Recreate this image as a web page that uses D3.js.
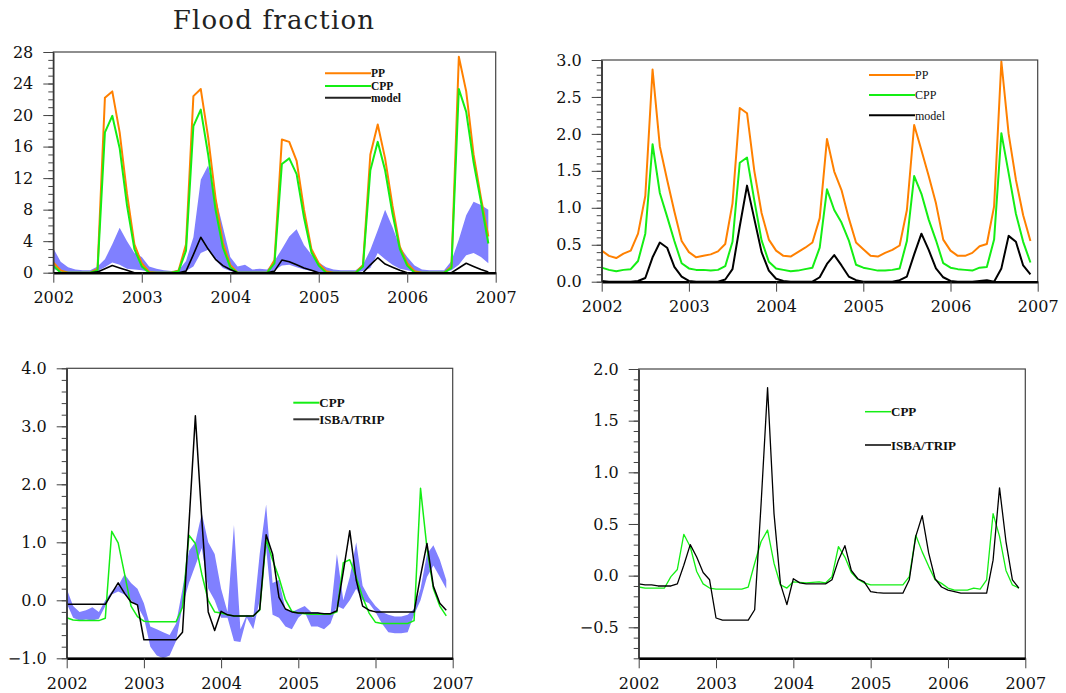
<!DOCTYPE html>
<html>
<head>
<meta charset="utf-8">
<script src="https://cdn.jsdelivr.net/npm/d3@7"></script>
<style>
  body { margin: 0; background: #fff; }
  svg { display: block; }
  .tick text { font-family: "DejaVu Serif", serif; font-size: 16px; fill: #111; }
  .tick line { stroke: #444; }
</style>
</head>
<body>
<svg width="1066" height="693"></svg>
<script>
// monthly time axis, Jan 2002 .. Dec 2006
const months = d3.range(60).map(i => 2002 + i / 12);
const years = [2002, 2003, 2004, 2005, 2006, 2007];

// top left: flood fraction
const ppFrac = [
  1.3, 0.3, 0, 0, 0, 0, 0.5, 22.2, 23.0, 17.8, 10.0, 3.6,
  1.2, 0.1, 0, 0, 0, 0.3, 3.6, 22.4, 23.3, 17.2, 9.5, 3.8,
  1.0, 0, 0, 0, 0, 0, 1.6, 16.9, 16.6, 14.2, 8.0, 3.0,
  1.2, 0.2, 0, 0, 0, 0, 1.0, 15.0, 18.8, 14.5, 8.5, 3.3,
  1.2, 0.2, 0, 0, 0, 0, 0.8, 27.4, 23.0, 15.0, 9.5, 4.6
];
const cppFrac = [
  0.9, 0, 0, 0, 0, 0, 0.3, 17.8, 19.9, 15.8, 8.5, 3.0,
  0.8, 0, 0, 0, 0, 0.2, 2.8, 18.6, 20.7, 15.0, 8.0, 3.2,
  0.7, 0, 0, 0, 0, 0, 1.2, 13.8, 14.5, 12.5, 7.0, 2.6,
  0.9, 0, 0, 0, 0, 0, 0.8, 13.0, 16.6, 13.0, 7.5, 3.0,
  0.9, 0, 0, 0, 0, 0, 0.6, 23.3, 20.4, 14.0, 9.0, 3.7
];
const modelFrac = [
  0, 0, 0, 0, 0, 0, 0.1, 0.5, 0.9, 0.6, 0.3, 0,
  0, 0, 0, 0, 0, 0, 0.2, 2.3, 4.5, 3.0, 1.7, 0.9,
  0.4, 0, 0, 0, 0, 0, 0.2, 1.6, 1.4, 1.0, 0.6, 0.3,
  0, 0, 0, 0, 0, 0, 0, 1.0, 1.9, 1.1, 0.7, 0.3,
  0, 0, 0, 0, 0, 0, 0, 0.6, 1.2, 0.8, 0.4, 0.1
];
const bandHiFrac = [
  3.1, 1.4, 0.7, 0.4, 0.3, 0.3, 0.8, 1.7, 3.6, 5.7, 4.0, 2.5,
  2.0, 0.8, 0.5, 0.3, 0.2, 0.3, 1.5, 4.5, 11.8, 13.6, 9.6, 5.8,
  2.0, 0.8, 1.0, 0.4, 0.5, 0.4, 1.5, 3.0, 4.6, 5.5, 3.5, 2.3,
  1.3, 0.7, 0.4, 0.3, 0.3, 0.3, 1.0, 2.9, 5.4, 8.0, 5.8, 3.3,
  2.0, 0.9, 0.4, 0.3, 0.3, 0.3, 1.5, 4.2, 7.3, 9.0, 8.6, 8.0
];
const bandLoFrac = [
  0.5, 0.1, 0, 0, 0, 0, 0.2, 0.7, 1.3, 1.0, 0.5, 0.4,
  0.3, 0.1, 0, 0, 0, 0, 0.2, 0.8, 2.5, 2.9, 1.6, 0.6,
  0.2, 0, 0, 0, 0, 0, 0.3, 0.9, 1.0, 0.7, 0.4, 0.2,
  0.1, 0, 0, 0, 0, 0, 0.2, 0.6, 2.5, 1.7, 1.0, 0.5,
  0.3, 0.1, 0, 0, 0, 0, 0.3, 1.0, 2.2, 2.5, 2.0, 1.2
];

// top right
const ppBasin = [
  0.42, 0.35, 0.32, 0.38, 0.42, 0.65, 1.16, 2.87, 1.83, 1.38, 0.95, 0.55,
  0.40, 0.33, 0.35, 0.37, 0.41, 0.51, 1.06, 2.35, 2.28, 1.50, 0.93, 0.57,
  0.42, 0.35, 0.34, 0.40, 0.46, 0.53, 0.86, 1.93, 1.49, 1.24, 0.86, 0.53,
  0.44, 0.35, 0.34, 0.39, 0.43, 0.49, 0.97, 2.12, 1.78, 1.43, 1.06, 0.57,
  0.42, 0.35, 0.35, 0.39, 0.48, 0.51, 1.02, 2.98, 2.00, 1.38, 0.90, 0.55
];
const cppBasin = [
  0.19, 0.16, 0.14, 0.16, 0.17, 0.28, 0.65, 1.86, 1.20, 0.88, 0.55, 0.25,
  0.18, 0.16, 0.16, 0.15, 0.16, 0.21, 0.54, 1.61, 1.68, 1.10, 0.56, 0.27,
  0.18, 0.16, 0.14, 0.15, 0.17, 0.19, 0.46, 1.25, 0.97, 0.80, 0.56, 0.23,
  0.19, 0.17, 0.15, 0.15, 0.16, 0.18, 0.55, 1.43, 1.19, 0.84, 0.56, 0.25,
  0.19, 0.17, 0.16, 0.15, 0.19, 0.20, 0.57, 2.01, 1.47, 0.92, 0.54, 0.26
];
const modelBasin = [
  0.01, 0, 0, 0, 0, 0.01, 0.05, 0.33, 0.53, 0.46, 0.20, 0.07,
  0.01, 0, 0, 0, 0, 0.03, 0.17, 0.75, 1.30, 0.85, 0.40, 0.15,
  0.04, 0.01, 0, 0, 0, 0, 0.06, 0.24, 0.36, 0.22, 0.07, 0.02,
  0, 0, 0, 0, 0, 0.02, 0.07, 0.37, 0.65, 0.43, 0.18, 0.06,
  0.01, 0, 0, 0, 0.01, 0.02, 0, 0.18, 0.62, 0.54, 0.22, 0.10
];

// bottom left: anomalies
const cppAnomA = [
  -0.30, -0.34, -0.35, -0.35, -0.35, -0.35, -0.31, 1.19, 0.99, 0.45, -0.10, -0.28,
  -0.36, -0.37, -0.37, -0.37, -0.37, -0.37, -0.12, 1.12, 0.98, 0.45, 0.0, -0.20,
  -0.22, -0.25, -0.27, -0.27, -0.27, -0.27, -0.17, 1.05, 0.70, 0.39, 0.01, -0.19,
  -0.22, -0.23, -0.24, -0.24, -0.24, -0.24, -0.20, 0.65, 0.70, 0.40, 0.05, -0.22,
  -0.38, -0.40, -0.40, -0.40, -0.40, -0.40, -0.35, 1.93, 0.90, 0.20, -0.10, -0.27
];
const isbaAnomA = [
  -0.07, -0.07, -0.07, -0.07, -0.07, -0.07, -0.07, 0.12, 0.30, 0.12, -0.03, -0.08,
  -0.68, -0.68, -0.68, -0.68, -0.68, -0.68, -0.55, 1.30, 3.18, 1.40, -0.20, -0.52,
  -0.19, -0.25, -0.27, -0.27, -0.27, -0.27, -0.16, 1.13, 0.80, 0.05, -0.15, -0.20,
  -0.22, -0.22, -0.22, -0.22, -0.23, -0.23, -0.18, 0.50, 1.20, 0.35, -0.10, -0.17,
  -0.20, -0.20, -0.20, -0.20, -0.20, -0.20, -0.20, 0.42, 0.98, 0.24, -0.05, -0.17
];
const bandLoAnom = [
  -0.05, -0.30, -0.35, -0.33, -0.35, -0.32, -0.10, 0.10, 0.15, 0.10, 0.00, -0.10,
  -0.30, -0.80, -0.95, -1.00, -0.95, -0.70, -0.10, 0.30, 0.60, 0.90, 0.20, 0.00,
  -0.30, -0.30, -0.70, -0.72, -0.30, -0.50, 0.00, 0.90, -0.25, -0.30, -0.45, -0.50,
  -0.30, -0.20, -0.45, -0.45, -0.50, -0.40, -0.10, -0.15, 0.00, 0.20, 0.00, -0.05,
  -0.20, -0.40, -0.55, -0.57, -0.57, -0.55, -0.25, 0.00, 0.40, 0.60, 0.40, 0.20
];
const bandHiAnom = [
  0.20, -0.10, -0.20, -0.17, -0.12, -0.20, 0.00, 0.15, 0.25, 0.45, 0.30, 0.20,
  -0.05, -0.45, -0.50, -0.55, -0.60, -0.40, 0.20, 0.85, 1.00, 1.50, 1.00, 0.80,
  0.20, -0.20, 1.30, -0.50, -0.25, -0.30, 0.80, 1.65, 0.30, 0.35, -0.15, -0.20,
  -0.15, -0.10, -0.20, -0.20, -0.25, -0.25, 0.80, 0.00, 0.40, 1.00, 0.25, 0.05,
  -0.10, -0.20, -0.25, -0.28, -0.28, -0.25, -0.15, 0.20, 0.80, 0.95, 0.70, 0.35
];

// bottom right
const cppAnomB = [
  -0.11, -0.12, -0.12, -0.12, -0.12, -0.01, 0.06, 0.40, 0.28, 0.04, -0.08, -0.12,
  -0.13, -0.13, -0.13, -0.13, -0.13, -0.11, 0.12, 0.33, 0.44, 0.12, -0.09, -0.12,
  -0.06, -0.065, -0.07, -0.065, -0.06, -0.07, -0.01, 0.28, 0.18, 0.03, -0.035, -0.07,
  -0.09, -0.09, -0.09, -0.09, -0.09, -0.09, -0.01, 0.39, 0.23, 0.09, -0.04, -0.075,
  -0.12, -0.14, -0.14, -0.14, -0.12, -0.13, -0.04, 0.60, 0.38, 0.05, -0.09, -0.12
];
const isbaAnomB = [
  -0.08, -0.09, -0.09, -0.10, -0.10, -0.10, -0.08, 0.10, 0.30, 0.18, 0.03, -0.04,
  -0.41, -0.43, -0.43, -0.43, -0.43, -0.43, -0.33, 0.70, 1.82, 0.60, -0.08, -0.28,
  -0.03, -0.07, -0.08, -0.08, -0.08, -0.08, -0.04, 0.15, 0.29, 0.05, -0.03, -0.06,
  -0.155, -0.165, -0.17, -0.17, -0.17, -0.17, -0.04, 0.38, 0.58, 0.22, -0.03, -0.11,
  -0.14, -0.155, -0.17, -0.17, -0.17, -0.17, -0.17, 0.15, 0.85, 0.33, -0.04, -0.12
];

// tick labels
const fracTicks = [0, 4, 8, 12, 16, 20, 24, 28];
const basinTicks = [0, 0.5, 1.0, 1.5, 2.0, 2.5, 3.0];
const anomATicks = [-1, 0, 1, 2, 3, 4];
const anomBTicks = [-0.5, 0, 0.5, 1.0, 1.5, 2.0];

const orange = '#ff8000', green = '#14ee14', black = '#000', bandColor = '#8080ff';

const svg = d3.select('svg');

svg.append('text')
  .attr('x', 274).attr('y', 29)
  .attr('text-anchor', 'middle')
  .style('font-family', '"DejaVu Serif", serif')
  .style('font-size', '26px')
  .style('letter-spacing', '1.2px')
  .attr('fill', '#222')
  .text('Flood fraction');

function drawPanel(p) {
  const x = d3.scaleLinear().domain([2002, 2007]).range([p.left, p.right]);
  const y = d3.scaleLinear().domain(p.yDomain).range([p.bottom, p.top]);
  const g = svg.append('g');

  svg.append('clipPath').attr('id', 'clip' + p.id)
    .append('rect')
    .attr('x', p.left).attr('y', p.top)
    .attr('width', p.right - p.left).attr('height', p.bottom - p.top);
  const plot = g.append('g').attr('clip-path', `url(#clip${p.id})`);

  if (p.band) {
    const area = d3.area()
      .x((d, i) => x(months[i]))
      .y0(d => y(d[0]))
      .y1(d => y(d[1]));
    plot.append('path')
      .datum(p.band.lo.map((v, i) => [v, p.band.hi[i]]))
      .attr('d', area)
      .attr('fill', bandColor);
  }

  const line = d3.line().x((d, i) => x(months[i])).y(d => y(d));
  p.series.forEach(s => {
    plot.append('path')
      .datum(s.values)
      .attr('d', line)
      .attr('fill', 'none')
      .attr('stroke', s.color)
      .attr('stroke-width', s.width)
      .attr('stroke-linejoin', 'round');
  });

  // frame
  g.append('rect')
    .attr('x', p.left).attr('y', p.top)
    .attr('width', p.right - p.left).attr('height', p.bottom - p.top)
    .attr('fill', 'none').attr('stroke', '#444').attr('stroke-width', 1.2);

  // y axis, minor then major ticks
  g.append('g')
    .attr('transform', `translate(${p.left},0)`)
    .call(d3.axisLeft(y).tickValues(p.minor).tickSize(5).tickFormat(''))
    .call(a => a.select('.domain').remove());
  g.append('g')
    .attr('transform', `translate(${p.left},0)`)
    .call(d3.axisLeft(y).tickValues(p.ticks).tickSize(10).tickPadding(10)
      .tickFormat(p.fmt).tickSizeOuter(0))
    .call(a => a.select('.domain').attr('stroke', '#333').attr('stroke-width', 1.4));

  // x axis
  g.append('g')
    .attr('transform', `translate(0,${p.bottom})`)
    .call(d3.axisBottom(x).tickValues(years).tickFormat(d3.format('d'))
      .tickSize(10).tickPadding(9).tickSizeOuter(0))
    .call(a => a.select('.domain').attr('stroke', '#000').attr('stroke-width', 2.5));

  // legend
  const lg = g.append('g');
  p.legend.items.forEach((it, k) => {
    const ly = p.legend.y[k];
    lg.append('line')
      .attr('x1', p.legend.x).attr('x2', p.legend.x + p.legend.len)
      .attr('y1', ly).attr('y2', ly)
      .attr('stroke', it.color).attr('stroke-width', p.legend.lw);
    lg.append('text')
      .attr('x', p.legend.x + p.legend.len).attr('y', ly)
      .attr('dy', '0.35em')
      .style('font-family', '"Liberation Serif", serif')
      .style('font-size', p.legend.size + 'px')
      .style('font-weight', p.legend.weight)
      .attr('fill', '#111')
      .text(it.label);
  });
}

drawPanel({
  id: 1, left: 53.3, right: 495.7, top: 52, bottom: 272.7,
  yDomain: [0, 28], ticks: fracTicks, fmt: d3.format('d'),
  minor: d3.range(0, 29),
  band: { lo: bandLoFrac, hi: bandHiFrac },
  series: [
    { values: ppFrac, color: orange, width: 2 },
    { values: cppFrac, color: green, width: 2 },
    { values: modelFrac, color: black, width: 1.6 }
  ],
  legend: {
    x: 325, len: 46, lw: 2, size: 11.5, weight: 'bold', y: [73.3, 86, 97.7],
    items: [
      { label: 'PP', color: orange },
      { label: 'CPP', color: green },
      { label: 'model', color: '#222' }
    ]
  }
});

drawPanel({
  id: 2, left: 601.7, right: 1037.7, top: 60, bottom: 281.7,
  yDomain: [0, 3], ticks: basinTicks, fmt: d3.format('.1f'),
  minor: d3.range(0, 31).map(v => v / 10),
  series: [
    { values: ppBasin, color: orange, width: 2 },
    { values: cppBasin, color: green, width: 2 },
    { values: modelBasin, color: black, width: 2 }
  ],
  legend: {
    x: 869, len: 46, lw: 2, size: 12, weight: 'normal', y: [75, 95, 115.3],
    items: [
      { label: 'PP', color: orange },
      { label: 'CPP', color: green },
      { label: 'model', color: black }
    ]
  }
});

drawPanel({
  id: 3, left: 66.7, right: 452.7, top: 368.3, bottom: 658.3,
  yDomain: [-1, 4], ticks: anomATicks, fmt: d3.format('.1f'),
  minor: d3.range(-5, 21).map(v => v / 5),
  band: { lo: bandLoAnom, hi: bandHiAnom },
  series: [
    { values: cppAnomA, color: green, width: 1.5 },
    { values: isbaAnomA, color: black, width: 1.5 }
  ],
  legend: {
    x: 293.3, len: 26, lw: 2, size: 13, weight: 'bold', y: [402.7, 419.3],
    items: [
      { label: 'CPP', color: green },
      { label: 'ISBA/TRIP', color: '#333' }
    ]
  }
});

drawPanel({
  id: 4, left: 638.7, right: 1025.3, top: 369, bottom: 658.3,
  yDomain: [-0.8, 2], ticks: anomBTicks, fmt: d3.format('.1f'),
  minor: d3.range(-8, 21).map(v => v / 10),
  series: [
    { values: cppAnomB, color: green, width: 1.3 },
    { values: isbaAnomB, color: black, width: 1.3 }
  ],
  legend: {
    x: 865, len: 26, lw: 1.5, size: 13, weight: 'bold', y: [411.7, 445],
    items: [
      { label: 'CPP', color: green },
      { label: 'ISBA/TRIP', color: black }
    ]
  }
});
</script>
</body>
</html>
